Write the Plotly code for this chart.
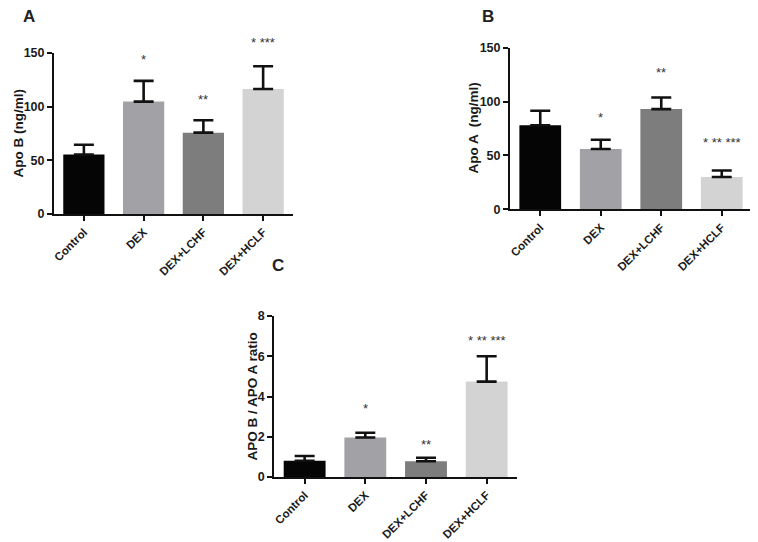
import plotly.graph_objects as go

categories = ["Control", "DEX", "DEX+LCHF", "DEX+HCLF"]
colors = ["#050505", "#a2a2a6", "#7d7d7d", "#d3d3d3"]

apob_mean = [55.5, 104.7, 75.8, 116.5]
apob_err = [9.0, 19.3, 11.5, 21.2]
apob_sig = ["", "*", "**", "* ***"]
apob_sig_y = [0, 144, 107, 160]

apoa_mean = [78, 56, 93, 30]
apoa_err = [13.5, 8.5, 10.8, 6.0]
apoa_sig = ["", "*", "**", "* ** ***"]
apoa_sig_y = [0, 85, 127, 62]

ratio_mean = [0.81, 1.96, 0.78, 4.74]
ratio_err = [0.23, 0.24, 0.18, 1.26]
ratio_sig = ["", "*", "**", "* ** ***"]
ratio_sig_y = [0, 3.38, 1.6, 6.78]

FONT = "Arial, Liberation Sans, sans-serif"
OFF = 8  # page body margin
W, H = 758 - OFF, 542 - OFF


def px(x):
    return (x - OFF) / W


def py(y):
    return 1 - (y - OFF) / H


fig = go.Figure()

panels = [
    (apob_mean, apob_err, apob_sig, apob_sig_y, "x", "y", (54, 293), (214, 53), [0, 150], [0, 50, 100, 150],
     "Apo B (ng/ml)", 18, "A", (29, 16)),
    (apoa_mean, apoa_err, apoa_sig, apoa_sig_y, "x2", "y2", (510, 752), (209.3, 47.7), [0, 150], [0, 50, 100, 150],
     "Apo A  (ng/ml)", 473, "B", (488, 16)),
    (ratio_mean, ratio_err, ratio_sig, ratio_sig_y, "x3", "y3", (274.3, 517), (477, 316), [0, 8], [0, 2, 4, 6, 8],
     "APO B / APO A ratio", 252, "C", (278, 265)),
]

annotations = []
for i, (means, errs, sig, sig_y, xa, ya, xd, yd, yr, tv, title, tx, lab, labxy) in enumerate(panels):
    fig.add_trace(go.Bar(
        x=categories, y=means, xaxis=xa, yaxis=ya,
        marker=dict(color=colors, line=dict(width=0)),
        width=0.69,
        error_y=dict(type="data", symmetric=False, array=errs, arrayminus=[0] * 4,
                     color="#111111", thickness=2.6, width=10),
        showlegend=False,
    ))
    suffix = "" if i == 0 else str(i + 1)
    fig.layout["xaxis" + suffix] = dict(
        domain=[px(xd[0]), min(1, px(xd[1]))], anchor=ya, range=[-0.5, 3.5],
        showline=True, linecolor="#111111", linewidth=2, ticks="outside",
        ticklen=5, tickwidth=2, tickcolor="#111111", tickangle=-45,
        tickfont=dict(family=FONT, size=11.5, color="#1a1a1a", weight="bold"),
        showgrid=False, zeroline=False, fixedrange=True, automargin=False,
    )
    fig.layout["yaxis" + suffix] = dict(
        domain=[py(yd[0]), py(yd[1])], anchor=xa, range=yr,
        tickvals=tv, showline=True, linecolor="#111111", linewidth=2,
        ticks="outside", ticklen=5, tickwidth=2, tickcolor="#111111",
        tickfont=dict(family=FONT, size=12.5, color="#1a1a1a", weight="bold"),
        showgrid=False, zeroline=False, fixedrange=True, automargin=False,
    )
    annotations.append(dict(
        text="<b>" + title + "</b>", xref="paper", yref="paper",
        x=px(tx), y=py((yd[0] + yd[1]) / 2), textangle=-90,
        showarrow=False, xanchor="center", yanchor="middle",
        font=dict(family=FONT, size=13.5, color="#1a1a1a"),
    ))
    for c, s, sy in zip(categories, sig, sig_y):
        if s:
            annotations.append(dict(
                text=s, x=c, y=sy / yr[1], xref=xa, yref=ya + " domain", showarrow=False,
                xanchor="center", yanchor="middle",
                font=dict(family=FONT, size=13, color="#333333"),
            ))
    annotations.append(dict(
        text="<b>" + lab + "</b>", xref="paper", yref="paper",
        x=px(labxy[0]), y=py(labxy[1]), showarrow=False,
        xanchor="center", yanchor="middle", borderpad=0,
        font=dict(family=FONT, size=17, color="#222222"),
    ))

fig.update_layout(
    width=W, height=H, margin=dict(l=0, r=0, t=0, b=0, autoexpand=False),
    paper_bgcolor="white", plot_bgcolor="white",
    annotations=annotations, bargap=0.3,
)

fig.write_html("out.html")
